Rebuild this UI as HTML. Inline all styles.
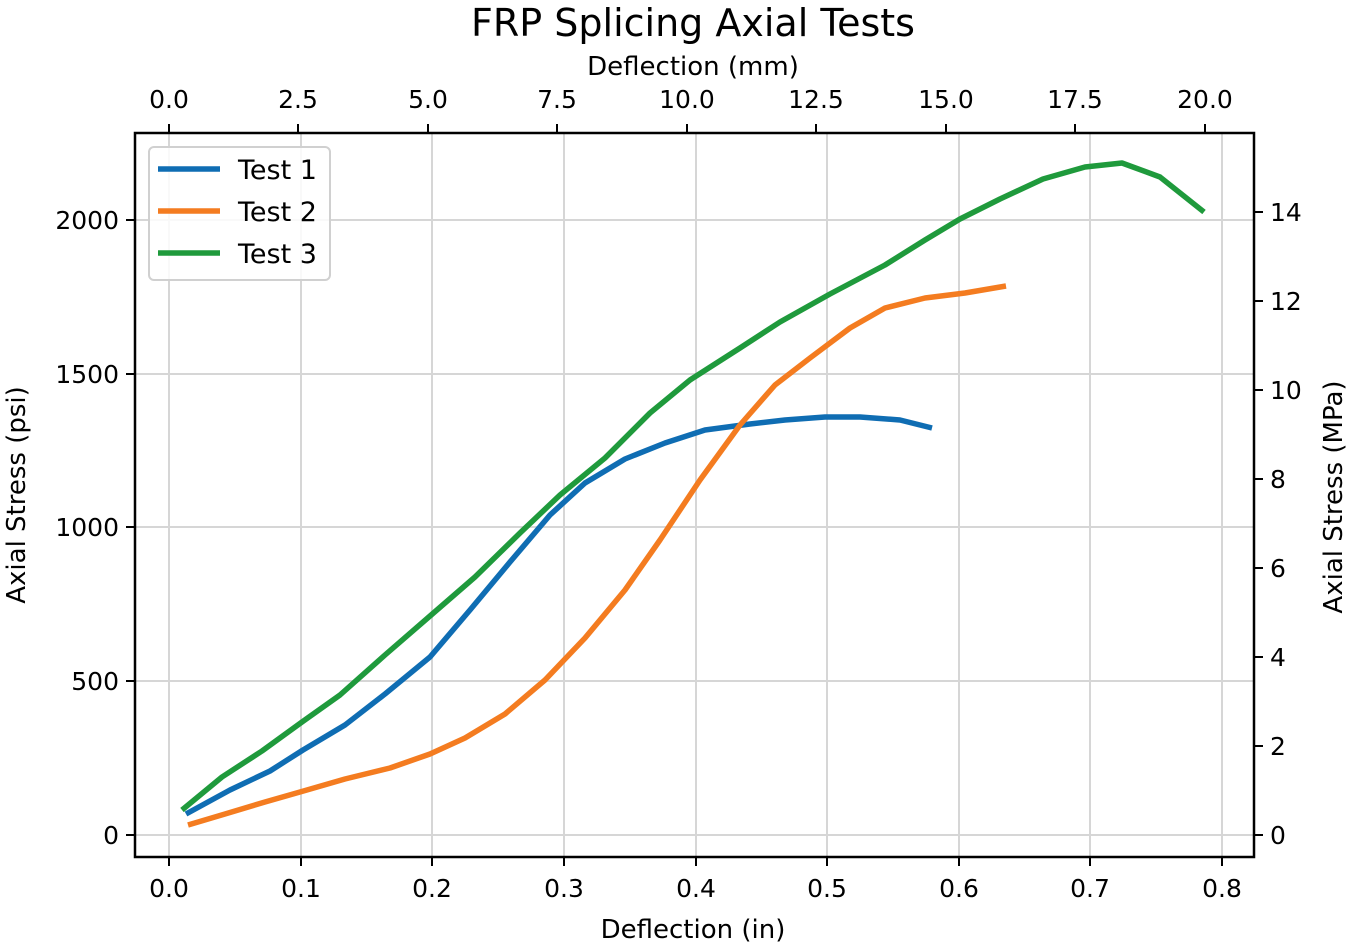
<!DOCTYPE html>
<html><head><meta charset="utf-8"><style>body{margin:0;background:#fff}svg{display:block}text{font-family:"DejaVu Sans",sans-serif;fill:#000}</style></head>
<body>
<svg width="1350" height="947" viewBox="0 0 1350 947">
<g stroke="#d6d6d6" stroke-width="2">
<line x1="169" y1="133" x2="169" y2="857"/><line x1="301" y1="133" x2="301" y2="857"/><line x1="432" y1="133" x2="432" y2="857"/><line x1="564" y1="133" x2="564" y2="857"/><line x1="696" y1="133" x2="696" y2="857"/><line x1="827" y1="133" x2="827" y2="857"/><line x1="959" y1="133" x2="959" y2="857"/><line x1="1090" y1="133" x2="1090" y2="857"/><line x1="1222" y1="133" x2="1222" y2="857"/>
<line x1="135" y1="835" x2="1254" y2="835"/><line x1="135" y1="681" x2="1254" y2="681"/><line x1="135" y1="527" x2="1254" y2="527"/><line x1="135" y1="374" x2="1254" y2="374"/><line x1="135" y1="220" x2="1254" y2="220"/>
</g>
<g fill="none" stroke-width="5.5" stroke-linejoin="round" stroke-linecap="butt">
<polyline stroke="#0f6db3" points="186,814 230,790 270,771 303,750 345,725 385,694 430,657 470,610 510,562 550,515 585,483 625,459 665,443 705,430 750,424 785,420 825,417 860,417 900,420 932,428"/>
<polyline stroke="#f47c20" points="188,825 225,814 265,802 300,792 345,779 390,768 430,754 465,738 505,714 545,680 585,638 625,590 660,540 700,480 740,425 775,385 810,358 850,328 885,308 925,298 965,293 1006,286"/>
<polyline stroke="#1f9a3c" points="182,810 222,777 262,751 302,722 340,695 385,655 430,616 475,577 520,533 560,495 605,458 650,413 690,380 740,348 780,322 830,294 885,265 925,240 960,219 1000,199 1043,179 1085,167 1122,163 1160,177 1204,212"/>
</g>
<rect x="135" y="133" width="1119" height="724" fill="none" stroke="#000" stroke-width="2.5"/>
<g stroke="#000" stroke-width="2">
<line x1="169" y1="857" x2="169" y2="866"/><line x1="301" y1="857" x2="301" y2="866"/><line x1="432" y1="857" x2="432" y2="866"/><line x1="564" y1="857" x2="564" y2="866"/><line x1="696" y1="857" x2="696" y2="866"/><line x1="827" y1="857" x2="827" y2="866"/><line x1="959" y1="857" x2="959" y2="866"/><line x1="1090" y1="857" x2="1090" y2="866"/><line x1="1222" y1="857" x2="1222" y2="866"/>
<line x1="126" y1="835" x2="135" y2="835"/><line x1="126" y1="681" x2="135" y2="681"/><line x1="126" y1="527" x2="135" y2="527"/><line x1="126" y1="374" x2="135" y2="374"/><line x1="126" y1="220" x2="135" y2="220"/>
<line x1="169" y1="124" x2="169" y2="133"/><line x1="298" y1="124" x2="298" y2="133"/><line x1="428" y1="124" x2="428" y2="133"/><line x1="557" y1="124" x2="557" y2="133"/><line x1="687" y1="124" x2="687" y2="133"/><line x1="816" y1="124" x2="816" y2="133"/><line x1="946" y1="124" x2="946" y2="133"/><line x1="1075" y1="124" x2="1075" y2="133"/><line x1="1205" y1="124" x2="1205" y2="133"/>
<line x1="1254" y1="835" x2="1263" y2="835"/><line x1="1254" y1="746" x2="1263" y2="746"/><line x1="1254" y1="657" x2="1263" y2="657"/><line x1="1254" y1="568" x2="1263" y2="568"/><line x1="1254" y1="479" x2="1263" y2="479"/><line x1="1254" y1="390" x2="1263" y2="390"/><line x1="1254" y1="301" x2="1263" y2="301"/><line x1="1254" y1="212" x2="1263" y2="212"/>
</g>
<g font-size="25" text-anchor="middle">
<text x="169" y="897">0.0</text><text x="301" y="897">0.1</text><text x="432" y="897">0.2</text><text x="564" y="897">0.3</text><text x="696" y="897">0.4</text><text x="827" y="897">0.5</text><text x="959" y="897">0.6</text><text x="1090" y="897">0.7</text><text x="1222" y="897">0.8</text>
<text x="169" y="108">0.0</text><text x="298" y="108">2.5</text><text x="428" y="108">5.0</text><text x="557" y="108">7.5</text><text x="687" y="108">10.0</text><text x="816" y="108">12.5</text><text x="946" y="108">15.0</text><text x="1075" y="108">17.5</text><text x="1205" y="108">20.0</text>
</g>
<g font-size="25" text-anchor="end">
<text x="119" y="844">0</text><text x="119" y="690">500</text><text x="119" y="536">1000</text><text x="119" y="383">1500</text><text x="119" y="229">2000</text>
</g>
<g font-size="25">
<text x="1270" y="844">0</text><text x="1270" y="755">2</text><text x="1270" y="666">4</text><text x="1270" y="577">6</text><text x="1270" y="488">8</text><text x="1270" y="399">10</text><text x="1270" y="310">12</text><text x="1270" y="221">14</text>
</g>
<text x="693" y="36" font-size="38" text-anchor="middle">FRP Splicing Axial Tests</text>
<text x="693" y="75" font-size="26" text-anchor="middle">Deflection (mm)</text>
<text x="693" y="938" font-size="26" text-anchor="middle">Deflection (in)</text>
<text transform="translate(25,495) rotate(-90)" font-size="26" text-anchor="middle">Axial Stress (psi)</text>
<text transform="translate(1342,497) rotate(-90)" font-size="26" text-anchor="middle">Axial Stress (MPa)</text>
<rect x="149" y="147" width="181" height="133" rx="5" fill="#fff" fill-opacity="0.85" stroke="#d0d0d0" stroke-width="2"/>
<g stroke-width="5.5"><line x1="158" y1="169" x2="220" y2="169" stroke="#0f6db3"/><line x1="158" y1="211" x2="220" y2="211" stroke="#f47c20"/><line x1="158" y1="253" x2="220" y2="253" stroke="#1f9a3c"/></g>
<g font-size="27"><text x="238" y="179">Test 1</text><text x="238" y="221">Test 2</text><text x="238" y="263">Test 3</text></g>
</svg>
</body></html>
